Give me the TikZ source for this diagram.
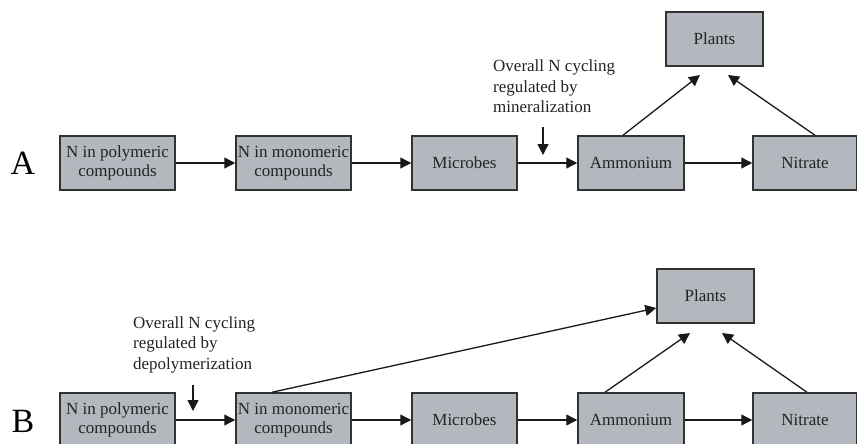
\documentclass[tikz,border=0pt]{standalone}
\usepackage{fontspec}
\setmainfont{Liberation Serif}
\usetikzlibrary{arrows.meta}

\definecolor{boxgray}{RGB}{179,184,191}
\definecolor{edgegray}{RGB}{50,50,50}
\definecolor{inkgray}{RGB}{35,35,35}

\tikzset{
  box/.style={draw=edgegray, line width=1.5pt, fill=boxgray, inner sep=0pt,
    minimum height=54pt, align=center, text=inkgray,
    font=\fontsize{17}{19}\selectfont},
  flow/.style={draw=black!90, line width=1.3pt, -{Triangle[length=11pt,width=11pt]}},
  note/.style={align=left, inner sep=0pt, anchor=north west, text=inkgray,
    font=\fontsize{17}{20.5}\selectfont},
  panel/.style={inner sep=0pt, font=\fontsize{34}{34}\selectfont}
}

\begin{document}
\begin{tikzpicture}[x=1pt,y=-1pt]
\useasboundingbox (0,0) rectangle (857,444);

% panel A: mineralization
\node[panel] (labA) at (23,163) {A};
\node[box, minimum width=115pt] (a1) at (117.5,163) {N in polymeric\\compounds};
\node[box, minimum width=115pt] (a2) at (293.5,163) {N in monomeric\\compounds};
\node[box, minimum width=105pt] (a3) at (464.5,163) {Microbes};
\node[box, minimum width=106pt] (a4) at (631,163) {Ammonium};
\node[box, minimum width=104pt] (a5) at (805,163) {Nitrate};
\node[box, minimum width=97pt] (aP) at (714.5,39) {Plants};
\node[note] (noteA) at (493,60) {Overall N cycling\\regulated by\\mineralization};

\coordinate (aPin1) at (700,75);
\coordinate (aPin2) at (728,75);
\coordinate (dnAtop) at (543,127);
\coordinate (dnAtip) at (543,155);

\draw[flow] (a1.east) -- (a2.west);
\draw[flow] (a2.east) -- (a3.west);
\draw[flow] (a3.east) -- (a4.west);
\draw[flow] (a4.east) -- (a5.west);
\draw[flow] ([xshift=-8pt]a4.north) -- (aPin1);
\draw[flow] ([xshift=10pt]a5.north) -- (aPin2);
\draw[flow] (dnAtop) -- (dnAtip);

% panel B: depolymerization
\node[panel] (labB) at (23,421) {B};
\node[box, minimum width=115pt] (b1) at (117.5,420) {N in polymeric\\compounds};
\node[box, minimum width=115pt] (b2) at (293.5,420) {N in monomeric\\compounds};
\node[box, minimum width=105pt] (b3) at (464.5,420) {Microbes};
\node[box, minimum width=106pt] (b4) at (631,420) {Ammonium};
\node[box, minimum width=104pt] (b5) at (805,420) {Nitrate};
\node[box, minimum width=97pt] (bP) at (705.5,296) {Plants};
\node[note] (noteB) at (133,316.5) {Overall N cycling\\regulated by\\depolymerization};

\coordinate (bPin1) at (690,333);
\coordinate (bPin2) at (722,333);
\coordinate (dnBtop) at (193,385);
\coordinate (dnBtip) at (193,411);

\draw[flow] (b1.east) -- (b2.west);
\draw[flow] (b2.east) -- (b3.west);
\draw[flow] (b3.east) -- (b4.west);
\draw[flow] (b4.east) -- (b5.west);
\draw[flow] ([xshift=-21.5pt]b2.north) -- ([yshift=-12pt]bP.west);
\draw[flow] ([xshift=-26pt]b4.north) -- (bPin1);
\draw[flow] ([xshift=2pt]b5.north) -- (bPin2);
\draw[flow] (dnBtop) -- (dnBtip);
\end{tikzpicture}
\end{document}
